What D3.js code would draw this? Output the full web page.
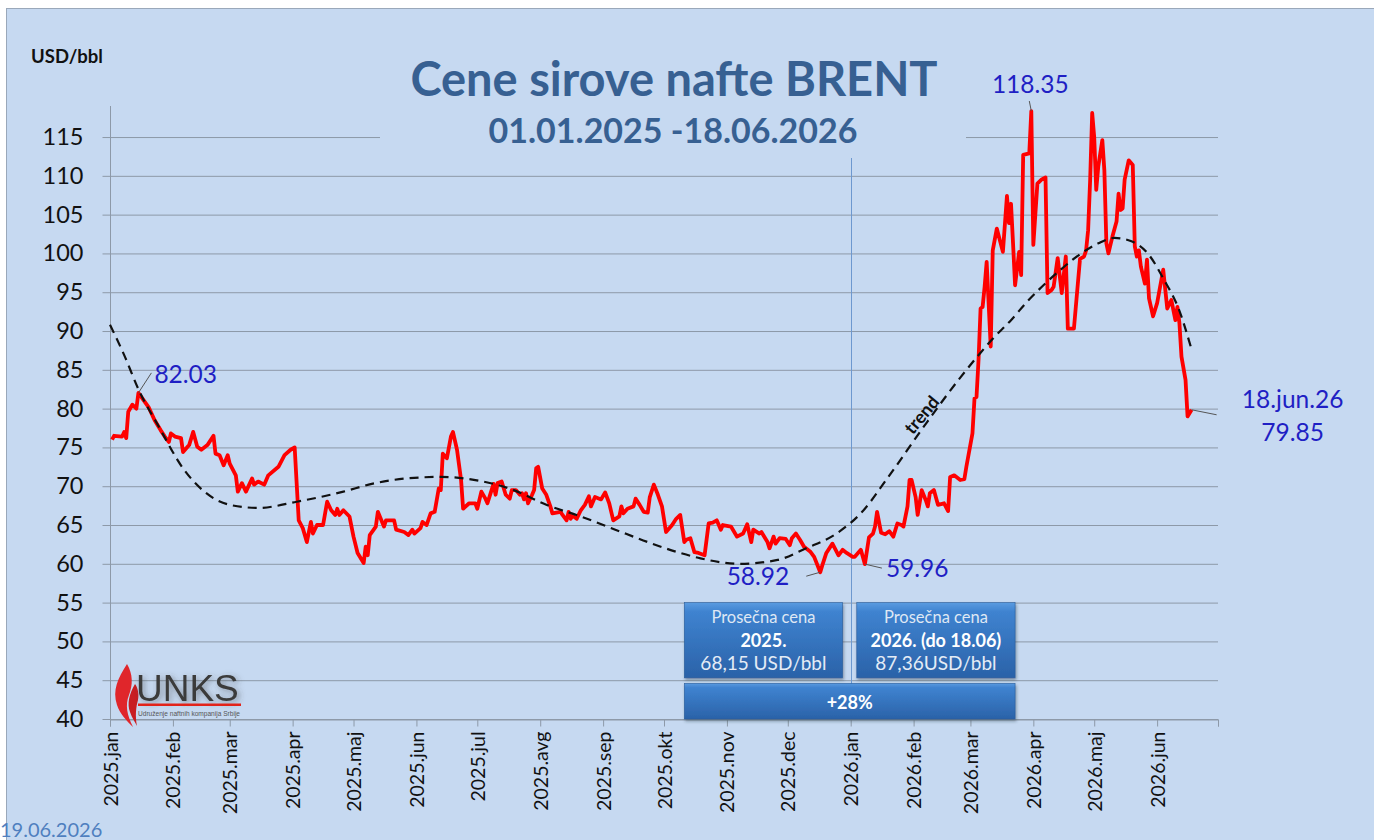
<!DOCTYPE html>
<html>
<head>
<meta charset="utf-8">
<script src="https://cdn.jsdelivr.net/npm/d3@7"></script>
<style>
  body { margin: 0; background: #fff; }
  svg { display: block; font-family: Lato, "Open Sans", sans-serif; }
</style>
</head>
<body>
<div id="chart"></div>
<script>
// === Data ===
const dates2025 = ["01-02","01-03","01-07","01-08","01-09","01-10","01-12","01-14","01-15","01-17","01-20","01-23","01-26","01-28","01-30","01-31",
  "02-02","02-05","02-06","02-09","02-11","02-13","02-15","02-18","02-21","02-22","02-24","02-26","02-28",
  "03-01","03-04","03-05","03-07","03-09","03-12","03-13","03-15","03-18","03-20","03-25","03-28","03-31",
  "04-02","04-04","04-06","04-08","04-10","04-11","04-13","04-16","04-18","04-20","04-22","04-23","04-24","04-26","04-29",
  "05-01","05-03","05-06","05-07","05-08","05-09","05-12","05-13","05-16","05-17","05-21","05-22","05-26","05-28","05-30","05-31",
  "06-03","06-04","06-06","06-08","06-10","06-12","06-13","06-14","06-16","06-18","06-19","06-21","06-23","06-24","06-27","06-30",
  "07-01","07-03","07-05","07-06","07-09","07-10","07-11","07-13","07-15","07-17","07-18","07-20","07-22","07-23","07-24","07-25","07-26","07-28","07-29","07-30","07-31",
  "08-02","08-04","08-06","08-07","08-11","08-12","08-14","08-15","08-16","08-17","08-19","08-21","08-23","08-25","08-26","08-28","08-31",
  "09-02","09-04","09-06","09-09","09-10","09-11","09-13","09-16","09-17","09-19","09-21","09-23","09-24","09-26","09-28","09-30",
  "10-02","10-05","10-07","10-09","10-11","10-12","10-14","10-16","10-18","10-21","10-23","10-25","10-27","10-29","10-30",
  "11-03","11-06","11-09","11-11","11-13","11-14","11-17","11-18","11-21","11-22","11-24","11-25","11-27","11-30",
  "12-02","12-03","12-05","12-07","12-09","12-12","12-14","12-17","12-18","12-20","12-23","12-26","12-28","12-30"];
const prices2025 = [76.0,76.5,76.4,77.0,76.2,79.6,80.5,80.0,82.03,81.3,80.2,78.5,77.2,76.4,75.7,76.8,
  76.4,76.2,74.4,75.3,77.0,75.1,74.7,75.3,76.5,74.2,74.0,72.7,74.0,
  72.9,71.4,69.3,70.4,69.3,71.0,70.2,70.6,70.2,71.4,72.5,74.0,74.7,
  75.0,65.6,64.6,62.8,65.4,63.9,65.0,65.0,68.0,66.9,66.3,67.1,66.3,66.9,66.1,
  63.5,61.4,60.1,62.2,61.1,63.7,64.8,66.7,64.8,65.6,65.6,64.4,64.1,63.7,64.4,63.9,
  64.6,65.4,65.0,66.5,66.7,69.7,69.5,74.2,73.6,76.4,77.0,74.7,70.8,67.1,67.8,67.8,
  67.1,69.3,68.4,67.8,70.3,68.9,70.4,70.6,68.9,68.4,69.5,69.5,68.9,69.1,68.3,69.1,67.8,68.9,69.5,72.3,72.5,
  69.7,68.9,67.4,66.5,66.7,66.3,65.6,66.7,65.8,66.2,65.8,66.9,67.6,68.7,67.4,68.6,68.3,
  69.2,67.8,65.6,66.1,67.4,66.5,67.1,67.4,68.4,67.6,66.7,66.6,68.6,70.2,68.9,67.4,
  64.1,65.0,65.8,66.3,62.8,63.1,63.3,61.5,61.4,61.1,65.2,65.3,65.6,64.4,65.0,
  64.8,63.5,63.9,65.1,62.8,64.4,63.9,64.1,62.8,62.0,63.5,62.6,63.3,63.2,
  62.4,63.3,63.9,63.1,62.2,61.6,60.9,58.92,59.8,61.4,62.6,61.1,61.8,61.4];

const dates2026 = ["01-02","01-03","01-06","01-08","01-10","01-12","01-13","01-14","01-16","01-18","01-20","01-22","01-24","01-26","01-27","01-29","01-30","01-31",
  "02-02","02-03","02-05","02-07","02-08","02-09","02-11","02-13","02-16","02-18","02-19","02-21","02-24","02-26","02-27",
  "03-02","03-03","03-04","03-05","03-06","03-07","03-08","03-09","03-11","03-12","03-14","03-17","03-19","03-20","03-21","03-22","03-23","03-25","03-26","03-27","03-30","03-31",
  "04-01","04-03","04-05","04-07","04-08","04-10","04-11","04-13","04-15","04-17","04-18","04-21","04-24","04-26","04-27","04-28","04-29","04-30",
  "05-01","05-02","05-03","05-05","05-06","05-07","05-08","05-10","05-12","05-13","05-14","05-15","05-16","05-18","05-20","05-21","05-22","05-23","05-24","05-26","05-27","05-28","05-30",
  "06-01","06-04","06-06","06-08","06-10","06-11","06-12","06-13","06-15","06-16","06-18"];
const prices2026 = [60.9,60.9,61.8,59.96,63.4,63.9,64.8,66.7,64.0,63.8,64.2,63.5,65.2,65.0,64.8,67.4,70.8,70.8,
  68.6,66.3,69.5,68.2,67.4,69.1,69.5,67.6,67.8,66.8,71.2,71.4,70.8,70.9,72.5,
  76.8,81.3,81.5,86.3,92.9,93.1,95.7,98.9,88.0,100.4,103.2,100.2,107.4,103.9,106.4,101.3,95.9,100.2,97.2,112.7,112.9,118.35,
  101.1,109.0,109.5,109.8,94.9,95.3,95.7,99.4,94.9,99.6,90.3,90.3,99.3,99.6,100.4,103.0,109.5,118.1,
  115.0,108.2,111.2,114.6,110.7,101.3,100.0,102.2,104.1,107.7,105.6,105.8,109.5,112.0,111.4,100.9,99.6,100.4,98.3,96.1,99.2,94.2,91.9,
  93.6,97.9,92.9,94.0,91.4,93.1,91.0,86.7,83.7,79.0,79.85];

// polynomial trend as drawn in the picture
const trendDates = ["2025-01-01","2025-01-08","2025-01-15","2025-01-25","2025-02-06","2025-02-17","2025-03-01","2025-03-15","2025-04-03","2025-04-26",
  "2025-05-10","2025-05-27","2025-06-13","2025-07-02","2025-07-19","2025-08-04","2025-08-21","2025-09-07","2025-09-23","2025-10-09","2025-10-19",
  "2025-11-07","2025-11-26","2025-12-10","2025-12-25","2026-01-07","2026-01-19","2026-02-08","2026-02-24","2026-03-06","2026-03-12","2026-03-21",
  "2026-03-29","2026-04-04","2026-04-14","2026-04-24","2026-05-03","2026-05-11","2026-05-19","2026-05-28","2026-06-04","2026-06-12","2026-06-18"];
const trendValues = [90.8,86.9,82.5,77.7,72.3,69.2,67.6,67.2,68.0,69.3,
  70.3,71.0,71.2,70.7,69.5,67.6,66.1,64.4,62.8,61.4,60.7,
  60.0,60.5,62.0,63.9,66.8,71.0,78.4,84.0,87.2,89.0,91.4,
  93.8,95.4,97.8,99.9,101.3,102.0,101.6,99.8,96.8,92.6,87.6];

const yTicks = [40,45,50,55,60,65,70,75,80,85,90,95,100,105,110,115];
const monthTicks = ["2025-01-01","2025-02-01","2025-03-01","2025-04-01","2025-05-01","2025-06-01","2025-07-01","2025-08-01","2025-09-01",
  "2025-10-01","2025-11-01","2025-12-01","2026-01-01","2026-02-01","2026-03-01","2026-04-01","2026-05-01","2026-06-01","2026-07-01"];
const monthLabels = ["2025.jan","2025.feb","2025.mar","2025.apr","2025.maj","2025.jun","2025.jul","2025.avg","2025.sep",
  "2025.okt","2025.nov","2025.dec","2026.jan","2026.feb","2026.mar","2026.apr","2026.maj","2026.jun",""];

const avgBox2025 = ["Prosečna cena", "2025.", "68,15 USD/bbl"];
const avgBox2026 = ["Prosečna cena", "2026. (do 18.06)", "87,36USD/bbl"];
const changeLabel = "+28%";

// === Setup ===
const W = 1374, H = 840;
const bg = "#c6d9f1";
const parse = d3.timeParse("%Y-%m-%d");

const prices = dates2025.map((d, i) => ({ date: parse("2025-" + d), value: prices2025[i] }))
  .concat(dates2026.map((d, i) => ({ date: parse("2026-" + d), value: prices2026[i] })));
const trend = trendDates.map((d, i) => ({ date: parse(d), value: trendValues[i] }));

const svg = d3.select("#chart").append("svg").attr("width", W).attr("height", H);
const defs = svg.append("defs");

const grad = defs.append("linearGradient").attr("id", "boxGrad").attr("x1", 0).attr("y1", 0).attr("x2", 0).attr("y2", 1);
grad.append("stop").attr("offset", "0%").attr("stop-color", "#5a9be0");
grad.append("stop").attr("offset", "12%").attr("stop-color", "#3f83d0");
grad.append("stop").attr("offset", "100%").attr("stop-color", "#2a62a8");

const shadow = defs.append("filter").attr("id", "shadow").attr("x", "-10%").attr("y", "-10%").attr("width", "130%").attr("height", "140%");
shadow.append("feDropShadow").attr("dx", 1).attr("dy", 2).attr("stdDeviation", 1.5).attr("flood-color", "#203040").attr("flood-opacity", 0.45);

const glow = defs.append("filter").attr("id", "glow").attr("x", "-30%").attr("y", "-40%").attr("width", "160%").attr("height", "180%");
glow.append("feDropShadow").attr("dx", 2).attr("dy", 2).attr("stdDeviation", 3).attr("flood-color", "#404040").attr("flood-opacity", 0.55);

// background panel
svg.append("rect").attr("x", 6.5).attr("y", 8.5).attr("width", W).attr("height", H)
  .attr("fill", bg).attr("stroke", "#9aa8ba");

// === Scales ===
const x = d3.scaleTime().domain([parse("2025-01-01"), parse("2026-07-01")]).range([110, 1218]);
const y = d3.scaleLinear().domain([40, 119]).range([719, 106]);

const gridColor = "#8d99a8";

// gridlines
svg.append("g").selectAll("line").data(yTicks).join("line")
  .attr("x1", 110).attr("x2", 1218)
  .attr("y1", d => y(d) + 0.5).attr("y2", d => y(d) + 0.5)
  .attr("stroke", gridColor).attr("stroke-width", 1);

// title panel hides part of the top gridline
svg.append("rect").attr("x", 380).attr("y", 30).attr("width", 586).attr("height", 127).attr("fill", bg);

// vertical year separator
const sepX = Math.round(x(parse("2026-01-01"))) + 0.5;
svg.append("line").attr("x1", sepX).attr("x2", sepX).attr("y1", 158).attr("y2", y(40))
  .attr("stroke", "#6d98cf").attr("stroke-width", 1);

// === Axes ===
const yAxis = svg.append("g").attr("transform", "translate(110.5,0)")
  .call(d3.axisLeft(y).tickValues(yTicks).tickSize(8).tickPadding(19));
yAxis.select(".domain").attr("stroke", gridColor).attr("d", `M-0,${y(119)}V${y(40)}`);
yAxis.selectAll(".tick line").attr("stroke", gridColor);
yAxis.selectAll(".tick text").attr("font-size", 23.5).attr("fill", "#111").attr("font-family", "Lato");

const xAxis = svg.append("g").attr("transform", `translate(0,${y(40) + 0.5})`)
  .call(d3.axisBottom(x).tickValues(monthTicks.map(parse)).tickSize(7)
    .tickFormat((d, i) => monthLabels[i]));
xAxis.select(".domain").attr("stroke", gridColor);
xAxis.selectAll(".tick line").attr("stroke", gridColor);
xAxis.selectAll(".tick text")
  .attr("transform", "rotate(-90)")
  .attr("x", -12).attr("y", 0).attr("dy", "0.36em")
  .attr("text-anchor", "end")
  .attr("font-size", 19.5).attr("fill", "#111").attr("font-family", "Lato");

// === Lines ===
svg.append("path").datum(prices)
  .attr("fill", "none").attr("stroke", "#ff0000").attr("stroke-width", 3.8).attr("stroke-linejoin", "round")
  .attr("d", d3.line().x(d => x(d.date)).y(d => y(d.value)));

svg.append("path").datum(trend)
  .attr("fill", "none").attr("stroke", "#111").attr("stroke-width", 2.2).attr("stroke-dasharray", "9,6")
  .attr("d", d3.line().curve(d3.curveMonotoneX).x(d => x(d.date)).y(d => y(d.value)));

svg.append("text")
  .attr("transform", `translate(${x(parse("2026-02-05"))},${y(79.2)}) rotate(-50)`)
  .attr("text-anchor", "middle").attr("dy", "0.35em")
  .attr("font-size", 18).attr("font-weight", 700).attr("fill", "#111").text("trend");

// === Titles ===
svg.append("text").attr("x", 674).attr("y", 96).attr("text-anchor", "middle")
  .attr("font-size", 47).attr("font-weight", 700).attr("fill", "#376092")
  .text("Cene sirove nafte BRENT");
svg.append("text").attr("x", 673).attr("y", 143).attr("text-anchor", "middle")
  .attr("font-size", 34).attr("font-weight", 700).attr("fill", "#376092")
  .text("01.01.2025 -18.06.2026");
svg.append("text").attr("x", 31).attr("y", 63)
  .attr("font-size", 18.5).attr("font-weight", 700).attr("fill", "#111").text("USD/bbl");

// === Point annotations ===
const annBlue = "#1f1fc4";
function annotate(dateStr, value, dx1, dy1, label, tx, ty, anchor) {
  const px = x(parse(dateStr)), py = y(value);
  svg.append("line").attr("x1", px).attr("y1", py).attr("x2", px + dx1).attr("y2", py + dy1)
    .attr("stroke", "#555").attr("stroke-width", 1);
  const t = svg.append("text").attr("x", px + tx).attr("y", py + ty).attr("text-anchor", anchor)
    .attr("font-size", 24.5).attr("fill", annBlue);
  [].concat(label).forEach((s, i) => t.append("tspan").attr("x", px + tx).attr("dy", i ? 33 : 0).text(s));
}
annotate("2025-01-15", 82.03, 13, -20, "82.03", 16, -10, "start");
annotate("2026-03-31", 118.35, -2, -10, "118.35", -1, -18, "middle");
annotate("2025-12-17", 58.92, -14, 4, "58.92", -31, 13, "end");
annotate("2026-01-08", 59.96, 17, 4, "59.96", 21, 13, "start");
annotate("2026-06-18", 79.85, 25, 5, ["18.jun.26", "79.85"], 101, -2, "middle");

// === Average price boxes ===
function box(x0, x1, v0, v1) {
  return svg.append("rect").attr("x", x0).attr("y", y(v0)).attr("width", x1 - x0).attr("height", y(v1) - y(v0))
    .attr("fill", "url(#boxGrad)").attr("stroke", "#2b5d9a").attr("stroke-width", 0.6)
    .attr("filter", "url(#shadow)");
}
const b1x0 = x(parse("2025-10-11")), b1x1 = x(parse("2025-12-28"));
const b2x0 = x(parse("2026-01-04")), b2x1 = x(parse("2026-03-23"));
box(b1x0, b1x1, 55, 45.3);
box(b2x0, b2x1, 55, 45.3);
box(b1x0, b2x1, 44.6, 40);

function boxText(cx, lines) {
  const g = svg.append("g").attr("text-anchor", "middle");
  g.append("text").attr("x", cx).attr("y", y(52.4)).attr("font-size", 16.5).attr("fill", "#dfe8f4").text(lines[0]);
  g.append("text").attr("x", cx).attr("y", y(49.3)).attr("font-size", 18).attr("font-weight", 700).attr("fill", "#fff").text(lines[1]);
  g.append("text").attr("x", cx).attr("y", y(46.3)).attr("font-size", 19).attr("fill", "#e4ecf6").text(lines[2]);
}
boxText((b1x0 + b1x1) / 2, avgBox2025);
boxText((b2x0 + b2x1) / 2, avgBox2026);
svg.append("text").attr("x", (b1x0 + b2x1) / 2).attr("y", y(41.3)).attr("text-anchor", "middle")
  .attr("font-size", 18).attr("font-weight", 700).attr("fill", "#fff").text(changeLabel);

// === Logo ===
const logo = svg.append("g");
logo.append("path")
  .attr("d", "M127,664 C118,678 112,690 117,705 C120,714 126,720 133,727 C127,715 125,705 129,695 C133,685 133,674 127,664 Z")
  .attr("fill", "#e0262b");
logo.append("path")
  .attr("d", "M135,684 C129,694 127,704 130,712 C132,718 135,722 137,726 C135,716 136,707 138,700 C139,694 138,688 135,684 Z")
  .attr("fill", "#c81d22");
logo.append("text").attr("x", 136).attr("y", 701).attr("font-family", "Liberation Sans, Arial, sans-serif")
  .attr("font-size", 37).attr("fill", "#3a3a3a").attr("filter", "url(#glow)").text("UNKS");
logo.append("rect").attr("x", 138).attr("y", 703.5).attr("width", 103).attr("height", 2.5).attr("fill", "#e2231a");
logo.append("text").attr("x", 138).attr("y", 716).attr("font-family", "Liberation Sans, Arial, sans-serif")
  .attr("font-size", 6.5).attr("fill", "#555").attr("textLength", 102).attr("lengthAdjust", "spacingAndGlyphs")
  .text("Udruženje naftnih kompanija Srbije");

// date stamp
svg.append("text").attr("x", 0).attr("y", 837).attr("font-size", 20).attr("fill", "#4f7fbf").text("19.06.2026");
</script>
</body>
</html>
